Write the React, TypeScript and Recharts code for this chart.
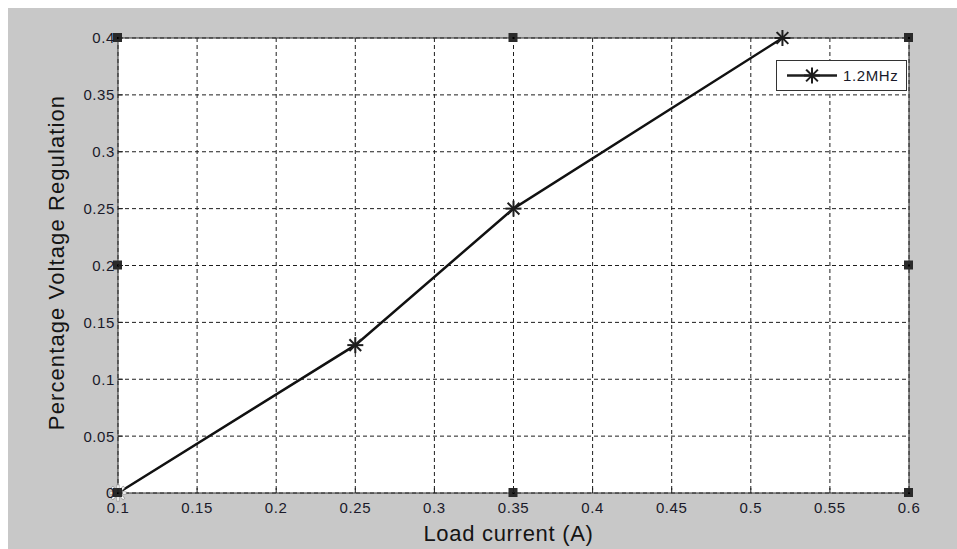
import React from 'react'
import {
  LineChart, Line, XAxis, YAxis, CartesianGrid, ReferenceLine, ReferenceDot, Label
} from 'recharts'

// values
const loadCurrent = [0.1, 0.25, 0.35, 0.52]
const regulation = [0, 0.13, 0.25, 0.4]
const seriesName = '1.2MHz'

const xTicks = [0.1, 0.15, 0.2, 0.25, 0.3, 0.35, 0.4, 0.45, 0.5, 0.55, 0.6]
const yTicks = [0, 0.05, 0.1, 0.15, 0.2, 0.25, 0.3, 0.35, 0.4]

// figure edit-mode handles (axes corners / mid sides)
const handleX = [0.1, 0.35, 0.6]
const handleY = [0, 0.2, 0.4]

const FONT = '"Liberation Sans", Arial, sans-serif'
const INK = '#1e1e1e'
const BG = '#c8c8c8'

const data = loadCurrent.map((x, i) => ({ x, v: regulation[i] }))

const handles = handleX
  .flatMap(hx => handleY.map(hy => ({ hx, hy })))
  .filter(h => !(h.hx === 0.35 && h.hy === 0.2))

const Asterisk = ({ cx, cy, r = 7, color = INK, width = 2 }: any) => {
  const d = r * 0.74
  return (
    <g stroke={color} strokeWidth={width} strokeLinecap="square">
      <line x1={cx - r} y1={cy} x2={cx + r} y2={cy} />
      <line x1={cx} y1={cy - r} x2={cx} y2={cy + r} />
      <line x1={cx - d} y1={cy - d} x2={cx + d} y2={cy + d} />
      <line x1={cx - d} y1={cy + d} x2={cx + d} y2={cy - d} />
    </g>
  )
}

const renderDot = (props: any) => {
  const { cx, cy, index } = props
  if (index === 0) {
    // first marker shows up white in the reference
    return (
      <g key={`dot-${index}`}>
        <Asterisk cx={cx} cy={cy} color="#9a9a9a" width={3} />
        <Asterisk cx={cx} cy={cy} color="#ffffff" width={1.6} />
      </g>
    )
  }
  return <Asterisk key={`dot-${index}`} cx={cx} cy={cy} />
}

const XTick = (props: any) => {
  const { x, y, payload } = props
  return (
    <g>
      <line x1={x} y1={y - 9} x2={x} y2={y - 14} stroke={INK} />
      <text x={x} y={y} dy="0.72em" textAnchor="middle" fill="#1a1a2a"
        style={{ fontFamily: FONT, fontSize: 15, letterSpacing: 0.6 }}>
        {payload.value}
      </text>
    </g>
  )
}

const YTick = (props: any) => {
  const { x, y, payload } = props
  return (
    <g>
      <line x1={x + 4} y1={y} x2={x + 9} y2={y} stroke={INK} />
      <text x={x + 1} y={y} dy="0.36em" textAnchor="end" fill="#1a1a2a"
        style={{ fontFamily: FONT, fontSize: 15, letterSpacing: 0.6 }}>
        {payload.value}
      </text>
    </g>
  )
}

const Handle = ({ cx, cy }: any) => (
  <g>
    <rect x={cx - 5} y={cy - 5} width={9} height={9} fill="#2a2a2a" />
    <rect x={cx - 1} y={cy - 1} width={2} height={2} fill="#000" />
  </g>
)

const LegendBox = () => (
  <div style={{
    position: 'absolute', left: 768, top: 52,
    width: 129, height: 29, background: '#fff', border: '1px solid #333',
    display: 'flex', alignItems: 'center', fontFamily: FONT, fontSize: 15,
    color: '#1a1a2a', letterSpacing: 0.6
  }}>
    <svg width={66} height={29}>
      <line x1={10} y1={14.5} x2={60} y2={14.5} stroke={INK} strokeWidth={2.5} />
      <Asterisk cx={35} cy={14.5} />
    </svg>
    <span>{seriesName}</span>
  </div>
)

export default function App() {
  return (
    <div style={{ position: 'fixed', left: 8, top: 8, width: 949, height: 541, background: BG }}>
      <LineChart width={949} height={541} data={data}
        margin={{ top: 30, right: 48, bottom: 16, left: 40 }}>
        <CartesianGrid stroke={INK} strokeDasharray="4 3" fill="#ffffff" fillOpacity={1} />
        <XAxis
          type="number" dataKey="x" domain={[0.1, 0.6]} ticks={xTicks}
          height={40} tickLine={false} tickSize={0} tickMargin={9}
          axisLine={{ stroke: '#333' }} tick={<XTick />} interval={0}
        >
          <Label
            content={({ viewBox }: any) => (
              <text x={viewBox.x + viewBox.width / 2 - 5} y={viewBox.y + 32} dy="0.72em"
                textAnchor="middle" fill="#141414"
                style={{ fontFamily: FONT, fontSize: 22, letterSpacing: 0.7 }}>
                Load current (A)
              </text>
            )}
          />
        </XAxis>
        <YAxis
          type="number" domain={[0, 0.4]} ticks={yTicks} width={70}
          tickLine={false} tickSize={0} tickMargin={4}
          axisLine={{ stroke: '#333' }} tick={<YTick />} interval={0}
        >
          <Label
            content={({ viewBox }: any) => {
              const cx = viewBox.x + 8
              const cy = viewBox.y + viewBox.height / 2 - 3
              return (
                <text x={cx} y={cy} transform={`rotate(-90 ${cx} ${cy})`}
                  textAnchor="middle" dominantBaseline="central" fill="#141414"
                  style={{ fontFamily: FONT, fontSize: 22, letterSpacing: 1.1 }}>
                  Percentage Voltage Regulation
                </text>
              )
            }}
          />
        </YAxis>
        <ReferenceLine y={0.4} stroke="#333" />
        <ReferenceLine x={0.6} stroke="#333" />
        <Line
          name={seriesName} dataKey="v" stroke="#111" strokeWidth={2.5}
          dot={renderDot} activeDot={false} isAnimationActive={false}
        />
        {handles.map(h => (
          <ReferenceDot key={`${h.hx}-${h.hy}`} x={h.hx} y={h.hy} r={4}
            ifOverflow="visible" shape={<Handle />} />
        ))}
      </LineChart>
      <LegendBox />
    </div>
  )
}
